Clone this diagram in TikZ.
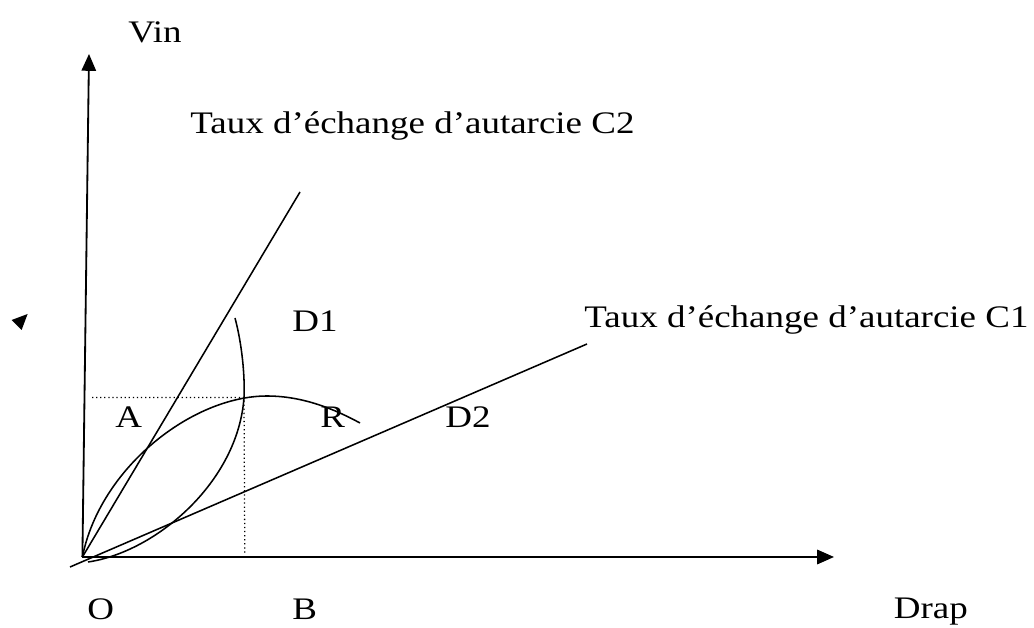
\documentclass[tikz,border=0pt]{standalone}
\usepackage{fontspec}
\setmainfont{Liberation Serif}
\usetikzlibrary{arrows.meta}

\begin{document}
\begin{tikzpicture}[
    x=1cm,
    y=1cm,
    axe/.style={
        line width=1.3pt,
        -{Triangle[length=0.42cm,width=0.36cm]}
    },
    droite/.style={
        line width=1.1pt
    },
    courbe/.style={
        line width=1.1pt
    },
    repere/.style={
        dotted,
        line width=0.9pt
    },
    etiquette/.style={
        anchor=base west,
        inner sep=0pt,
        font=\fontsize{22.3}{26}\selectfont,
        xscale=1.18,
        transform shape
    }
]
    \useasboundingbox (0,0) rectangle (25.85,15.7);

    \coordinate (O) at (2.06,1.775);
    \coordinate (finx) at (20.85,1.775);
    \coordinate (finy) at (2.225,14.35);
    \coordinate (finC2) at (7.50,10.90);
    \coordinate (departC1) at (1.75,1.525);
    \coordinate (finC1) at (14.675,7.10);
    \coordinate (P) at (6.10,5.76);
    \coordinate (Py) at (2.30,5.76);
    \coordinate (Px) at (6.12,1.82);
    \coordinate (hautD1) at (5.875,7.75);
    \coordinate (basD1) at (2.20,1.65);
    \coordinate (sommet) at (6.675,5.80);
    \coordinate (finD2) at (9.00,5.125);

    \draw[axe] (O) -- (finx);
    \draw[axe] (O) -- (finy);

    \draw[droite] (O) -- (finC2);
    \draw[droite] (departC1) -- (finC1);

    \draw[repere] (Py) -- (P) -- (Px);

    \draw[courbe] (hautD1) .. controls (6.05,7.10) and (6.125,6.30) .. (P)
        .. controls (5.95,3.65) and (3.90,1.90) .. (basD1);
    \draw[courbe] (O) .. controls (2.50,4.00) and (4.80,5.80) .. (sommet)
        .. controls (7.60,5.80) and (8.40,5.45) .. (finD2);

    \fill (0.29,7.70) -- (0.69,7.85) -- (0.54,7.45) -- cycle;

    \node[etiquette] (vin) at (3.20,14.625) {Vin};
    \node[etiquette] (tauxC2) at (4.75,12.35) {Taux d’échange d’autarcie C2};
    \node[etiquette] (tauxC1) at (14.60,7.50) {Taux d’échange d’autarcie C1};
    \node[etiquette] (d1) at (7.30,7.40) {D1};
    \node[etiquette] (a) at (2.875,5.00) {A};
    \node[etiquette] (r) at (8.00,5.00) {R};
    \node[etiquette] (d2) at (11.125,5.00) {D2};
    \node[etiquette] (o) at (2.175,0.20) {O};
    \node[etiquette] (b) at (7.30,0.20) {B};
    \node[etiquette] (drap) at (22.34,0.225) {Drap};
\end{tikzpicture}
\end{document}
